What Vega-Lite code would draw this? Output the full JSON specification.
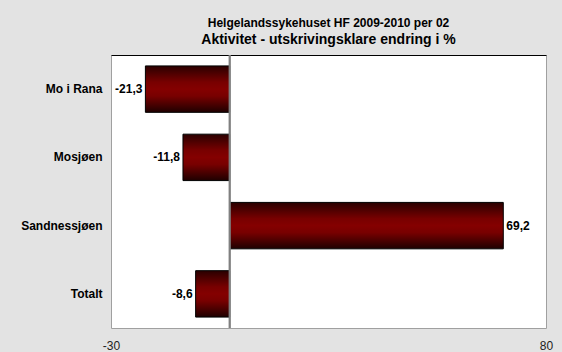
{
  "$schema": "https://vega.github.io/schema/vega-lite/v6.json",
  "width": 435,
  "height": 273,
  "autosize": "none",
  "padding": {"left": 111, "top": 55, "right": 16, "bottom": 24},
  "background": "#e3e3e3",
  "title": {
    "text": "Helgelandssykehuset HF 2009-2010 per 02",
    "subtitle": "Aktivitet - utskrivingsklare endring i %",
    "anchor": "middle",
    "font": "Liberation Sans",
    "fontSize": 12,
    "fontWeight": "bold",
    "color": "#000000",
    "subtitleFont": "Liberation Sans",
    "subtitleFontSize": 14,
    "subtitleFontWeight": "bold",
    "subtitleColor": "#000000",
    "subtitlePadding": 3,
    "offset": 6
  },
  "data": {
    "values": [
      {"sted": "Mo i Rana", "endring": -21.3, "label": "-21,3"},
      {"sted": "Mosjøen", "endring": -11.8, "label": "-11,8"},
      {"sted": "Sandnessjøen", "endring": 69.2, "label": "69,2"},
      {"sted": "Totalt", "endring": -8.6, "label": "-8,6"}
    ]
  },
  "layer": [
    {
      "mark": {
        "type": "bar",
        "stroke": "#000000",
        "strokeWidth": 1,
        "fill": {
          "gradient": "linear",
          "x1": 0, "y1": 0, "x2": 0, "y2": 1,
          "stops": [
            {"offset": 0, "color": "#2a0000"},
            {"offset": 0.35, "color": "#780000"},
            {"offset": 0.5, "color": "#840000"},
            {"offset": 0.65, "color": "#780000"},
            {"offset": 1, "color": "#1e0000"}
          ]
        }
      },
      "encoding": {
        "y": {
          "field": "sted",
          "type": "nominal",
          "sort": null,
          "scale": {"paddingInner": 0.32, "paddingOuter": 0.16},
          "axis": {
            "title": null,
            "domain": false,
            "ticks": false,
            "labelFont": "Liberation Sans",
            "labelFontSize": 12,
            "labelFontWeight": "bold",
            "labelColor": "#000000",
            "labelPadding": 9
          }
        },
        "x": {
          "field": "endring",
          "type": "quantitative",
          "scale": {"domain": [-30, 80], "nice": false, "zero": false},
          "axis": {
            "title": null,
            "values": [-30, 80],
            "labelExpr": "'' + datum.value",
            "grid": false,
            "ticks": false,
            "domain": false,
            "labelFont": "Liberation Sans",
            "labelFontSize": 12,
            "labelColor": "#222222",
            "labelPadding": 12,
            "labelFlush": false
          }
        }
      }
    },
    {
      "mark": {"type": "rule", "color": "#808080", "strokeWidth": 1.5},
      "encoding": {
        "x": {
          "datum": 0,
          "type": "quantitative",
          "axis": {
            "orient": "top",
            "title": null,
            "labels": false,
            "ticks": false,
            "grid": false,
            "domain": true,
            "domainColor": "#000000",
            "domainWidth": 1
          }
        }
      }
    },
    {
      "transform": [{"filter": "datum.endring < 0"}],
      "mark": {
        "type": "text",
        "align": "right",
        "baseline": "middle",
        "dx": -3,
        "font": "Liberation Sans",
        "fontSize": 12,
        "fontWeight": "bold",
        "color": "#000000"
      },
      "encoding": {
        "y": {"field": "sted", "type": "nominal", "sort": null},
        "x": {"field": "endring", "type": "quantitative", "axis": null},
        "text": {"field": "label"}
      }
    },
    {
      "transform": [{"filter": "datum.endring >= 0"}],
      "mark": {
        "type": "text",
        "align": "left",
        "baseline": "middle",
        "dx": 3,
        "font": "Liberation Sans",
        "fontSize": 12,
        "fontWeight": "bold",
        "color": "#000000"
      },
      "encoding": {
        "y": {"field": "sted", "type": "nominal", "sort": null},
        "x": {"field": "endring", "type": "quantitative", "axis": null},
        "text": {"field": "label"}
      }
    }
  ],
  "resolve": {"axis": {"x": "independent"}},
  "config": {
    "view": {"fill": "#ffffff", "stroke": "#a0a0a0", "strokeWidth": 1}
  }
}
